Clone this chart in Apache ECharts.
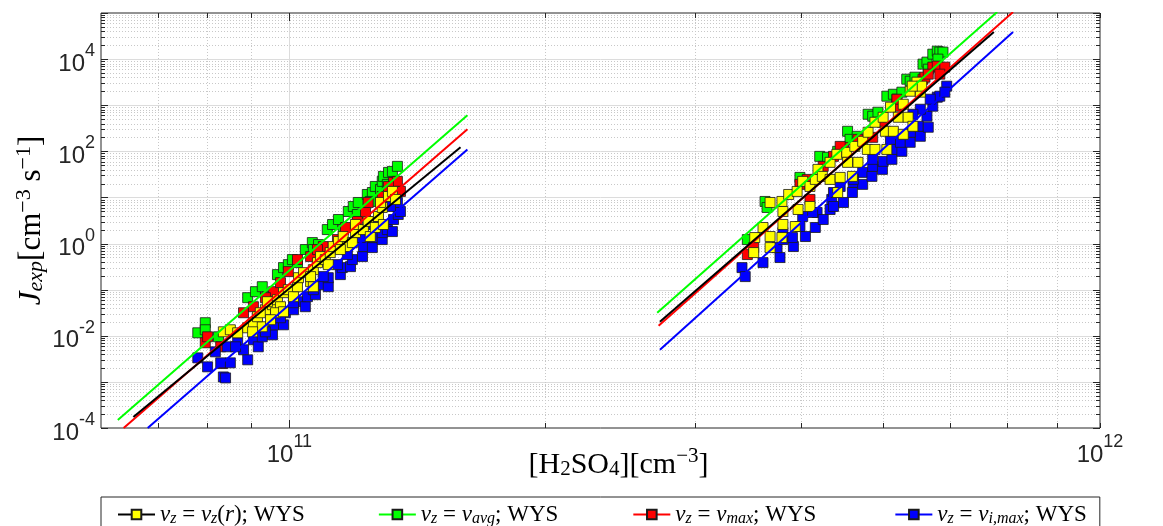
<!DOCTYPE html>
<html><head><meta charset="utf-8">
<script src="https://cdn.jsdelivr.net/npm/echarts@6/dist/echarts.min.js"></script>
<style>html,body{margin:0;padding:0;background:#fff;}#c{width:1163px;height:526px;}</style>
</head><body><div id="c"></div>
<script>
// ---------------- axis ranges & ticks ----------------
const X_MIN = 6e10, X_MAX = 9e11, Y_MIN = 1e-4, Y_MAX = 1e5;
const xTickValues = [7e10, 8e10, 9e10, 1e11, 2e11, 3e11, 4e11, 5e11, 6e11, 7e11, 8e11, 9e11];
const xMajorValues = [1e11];
const xTickLabels = [[1e11, '11'], [9e11, '12']];           // value -> exponent text shown
const yDecades = [1e-4, 1e-3, 1e-2, 1e-1, 1, 1e1, 1e2, 1e3, 1e4, 1e5];
const yMinorMantissas = [2, 3, 4, 5, 6, 7, 8, 9];
const yLabelExps = [-4, -2, 0, 2, 4];

// ---------------- legend / series names ----------------
const names = ['vz = vz(r); WYS', 'vz = vavg; WYS', 'vz = vmax; WYS', 'vz = vi,max; WYS'];
const legendRich = {
  'vz = vz(r); WYS': '{i|v}{s|z}{t| = }{i|v}{s|z}{t|(}{i|r}{t|); WYS}{p1|}',
  'vz = vavg; WYS': '{i|v}{s|z}{t| = }{i|v}{s|avg}{t|; WYS}{p2|}',
  'vz = vmax; WYS': '{i|v}{s|z}{t| = }{i|v}{s|max}{t|; WYS}{p3|}',
  'vz = vi,max; WYS': '{i|v}{s|z}{t| = }{i|v}{s|i,max}{t|; WYS}'
};

// ---------------- data: [H2SO4] (cm^-3), J (cm^-3 s^-1) ----------------
const yellowPts = [
  [8.36e10,1.22e-2],[8.52e10,1.35e-2],[8.69e10,1.16e-2],[8.93e10,1.49e-2],[9.07e10,1.92e-2],[9.29e10,1.57e-2],[9.17e10,2.59e-2],[9.37e10,3.67e-2],[9.55e10,4.72e-2],[9.42e10,5.48e-2],[9.68e10,6.06e-2],[9.76e10,4.27e-2],[9.63e10,3.16e-2],[9.84e10,8.61e-2],[9.97e10,0.1],[1.011e11,7.05e-2],[1.022e11,0.116],[1.025e11,0.182],[1.039e11,0.234],[1.059e11,0.149],[1.067e11,0.272],[1.079e11,0.386],[1.088e11,0.521],[1.102e11,0.449],[1.117e11,0.637],[1.126e11,0.861],[1.142e11,1.105],[1.157e11,1.42],[1.170e11,0.861],[1.186e11,1.05],[1.196e11,1.73],[1.196e11,2.59],[1.222e11,2.01],[1.238e11,3.01],[1.245e11,1.42],[1.262e11,2.23],[1.273e11,3.86],[1.286e11,6.06],[1.290e11,2.59],[1.280e11,7.78],[1.308e11,10.5],[1.322e11,13.5],[1.333e11,9.05],[1.148e11,0.741],[1.111e11,0.349],[1.067e11,0.116],[1.059e11,0.192],[9.84e10,3.32e-2],[9.50e10,2.23e-2],[9.24e10,3.16e-2],[9.05e10,1.22e-2],
  [3.53e11,1.35],[3.52e11,0.637],[3.61e11,2.23],[3.68e11,7.78],[3.68e11,0.818],[3.68e11,1.42],[3.80e11,8.19],[3.80e11,1.35],[3.81e11,4.96],[3.81e11,2.59],[3.87e11,11.6],[3.94e11,2.34],[3.96e11,13.5],[3.97e11,5.48],[4.02e11,22.3],[4.10e11,6.37],[4.10e11,17.3],[4.16e11,24.6],[4.19e11,40.6],[4.24e11,28.6],[4.33e11,57.7],[4.33e11,24.6],[4.41e11,86.1],[4.42e11,12.8],[4.45e11,27.2],[4.53e11,95.1],[4.54e11,57.7],[4.60e11,28.6],[4.63e11,128],[4.67e11,57.7],[4.73e11,165],[4.79e11,110],[4.80e11,259],[4.89e11,110],[4.89e11,427],[5.00e11,548],[5.03e11,272],[5.05e11,110],[5.10e11,905],[5.14e11,272],[5.21e11,548],[5.28e11,1050],[5.28e11,234],[5.35e11,548],[5.38e11,2010],[5.42e11,349],[5.48e11,3160],[5.53e11,1920],[5.55e11,2590],[5.41e11,2590]
];
const greenPts = [
  [7.80e10,1.16e-2],[7.96e10,1.92e-2],[7.96e10,1.35e-2],[8.25e10,9.51e-3],[8.93e10,6.70e-2],[9.12e10,9.05e-2],[9.29e10,0.116],[9.42e10,7.05e-2],[9.68e10,0.212],[9.84e10,0.301],[9.97e10,0.349],[1.008e11,0.449],[1.022e11,0.386],[1.044e11,0.741],[1.064e11,1.05],[1.067e11,0.741],[1.082e11,0.951],[1.108e11,2.01],[1.124e11,2.59],[1.142e11,3.32],[1.157e11,2.01],[1.173e11,4.96],[1.189e11,6.37],[1.205e11,7.78],[1.202e11,4.27],[1.235e11,11.6],[1.252e11,12.8],[1.262e11,17.3],[1.280e11,14.9],[1.286e11,22.3],[1.290e11,28.6],[1.308e11,34.9],[1.322e11,36.7],[1.340e11,47.2],[1.333e11,21.2],[1.304e11,19.2],[1.245e11,8.19],
  [3.63e11,8.19],[3.65e11,6.06],[3.46e11,1.22],[4.21e11,77.8],[4.30e11,74.1],[4.54e11,272],[4.57e11,182],[4.80e11,637],[4.86e11,577],[5.05e11,1570],[5.14e11,1730],[5.19e11,1350],[5.33e11,3670],[5.38e11,3320],[5.45e11,4060],[5.57e11,7780],[5.63e11,8610],[5.72e11,12800],[5.79e11,14900],[5.83e11,14200],[5.88e11,14200],[5.80e11,10000],[5.65e11,6060],[5.26e11,1920],[4.93e11,705],[4.66e11,212],[4.42e11,100],[3.99e11,27.2]
];
const redPts = [
  [7.96e10,7.05e-3],[8.01e10,9.51e-3],[8.30e10,5.77e-3],[8.83e10,3.16e-2],[9.58e10,9.05e-2],[9.97e10,0.246],[1.022e11,0.449],[1.059e11,0.521],[1.096e11,0.861],[1.139e11,1.22],[1.164e11,2.23],[1.229e11,4.72],[1.238e11,7.78],[1.326e11,21.2],[1.340e11,22.3],[1.333e11,12.8],[1.351e11,13.5],[8.34e10,2.5e-3],[9.07e10,4.27e-2],[9.37e10,6.70e-2],[9.76e10,0.142],[1.079e11,0.741],[1.202e11,3.01],[1.286e11,10.5],[1.308e11,17.3],
  [3.46e11,0.577],[3.52e11,0.818],[3.99e11,19.2],[4.07e11,24.6],[4.25e11,47.2],[4.37e11,77.8],[4.49e11,122],[4.67e11,182],[4.86e11,201],[4.99e11,427],[5.19e11,951],[5.19e11,1350],[5.42e11,2230],[5.57e11,3670],[5.60e11,4060],[5.72e11,6700],[5.79e11,7050],[5.91e11,6700],[5.83e11,4720],[5.65e11,4720],[4.10e11,9.05],[4.45e11,128]
];
const bluePts = [
  [7.80e10,3.32e-3],[8.01e10,2.12e-3],[8.36e10,1.28e-3],[8.41e10,1.22e-3],[8.18e10,4.49e-3],[8.45e10,5.77e-3],[8.69e10,7.05e-3],[8.83e10,4.97e-3],[8.93e10,3.01e-3],[9.07e10,8.19e-3],[9.19e10,5.77e-3],[9.29e10,9.51e-3],[9.55e10,1.05e-2],[9.58e10,1.73e-2],[9.84e10,1.73e-2],[9.89e10,3.16e-2],[1.011e11,3.67e-2],[1.030e11,5.48e-2],[1.044e11,4.27e-2],[1.050e11,7.05e-2],[1.073e11,7.78e-2],[1.094e11,0.128],[1.111e11,0.116],[1.111e11,0.182],[1.148e11,0.212],[1.154e11,0.301],[1.180e11,0.316],[1.186e11,0.449],[1.219e11,0.521],[1.222e11,0.861],[1.252e11,0.818],[1.252e11,1.35],[1.286e11,1.22],[1.286e11,1.73],[1.304e11,2.01],[1.322e11,1.82],[1.326e11,3.32],[1.343e11,4.27],[1.351e11,4.96],[1.340e11,7.78],[1.315e11,6.37],[1.255e11,2.59],[1.212e11,1.35],[1.170e11,0.577],[1.139e11,0.349],[1.096e11,0.192],[1.067e11,0.1],[1.011e11,5.21e-2],[9.76e10,2.46e-2],[8.30e10,2.59e-3],[8.52e10,2.59e-3],[8.64e10,5.77e-3],[9.37e10,1.22e-2],
  [3.41e11,0.301],[3.44e11,0.192],[3.61e11,0.386],[3.78e11,0.497],[3.92e11,0.861],[3.75e11,0.818],[3.81e11,1.73],[3.91e11,1.35],[4.05e11,1.42],[3.99e11,2.34],[4.02e11,3.86],[4.16e11,2.23],[4.18e11,4.72],[4.25e11,3.32],[4.33e11,5.48],[4.35e11,9.05],[4.49e11,7.78],[4.37e11,12.8],[4.45e11,17.3],[4.60e11,12.8],[4.61e11,21.2],[4.73e11,19.2],[4.73e11,34.9],[4.85e11,28.6],[4.86e11,47.2],[4.99e11,40.6],[5.00e11,60.6],[5.12e11,67.0],[5.14e11,110],[5.26e11,100],[5.24e11,157],[5.38e11,157],[5.41e11,259],[5.53e11,212],[5.50e11,349],[5.65e11,333],[5.63e11,577],[5.72e11,951],[5.79e11,1490],[5.83e11,1570],[5.94e11,2590],[5.91e11,1920],[5.68e11,1350],[5.53e11,818],[5.42e11,637],[5.10e11,182],[4.86e11,67.0],[4.61e11,24.6],[4.37e11,6.37],[4.13e11,4.72],[3.81e11,1.22]
];
// fitted lines: two segments each (left cluster, right cluster)
const blackFit = [[[6.55e10,1.73e-4],[1.59e11,122]], [[2.73e11,2.01e-2],[6.75e11,3.86e4]]];
const greenFit = [[[6.28e10,1.49e-4],[1.62e11,607]], [[2.71e11,3.16e-2],[6.81e11,1.05e5]]];
const redFit   = [[[6.38e10,1.0e-4],[1.62e11,300]], [[2.72e11,1.65e-2],[7.11e11,1.05e5]]];
const blueFit  = [[[6.81e10,1.0e-4],[1.62e11,110]], [[2.73e11,4.97e-3],[7.11e11,3.86e4]]];

// ---------------- styles ----------------
const C = {yellow:'#ffff00', green:'#00ff00', red:'#ff0000', blue:'#0000ff', black:'#000000'};
const FRAME = '#262626';
const MAJOR_GRID = {stroke:'#dcdcdc', lineWidth:1};
const MINOR_GRID = {stroke:'#c8c8c8', lineWidth:1, lineDash:[1,2]};
const TICK = {stroke:FRAME, lineWidth:1};

const yTickData = [];
yDecades.forEach(d => {
  yTickData.push([X_MIN, d]);
  if (d < Y_MAX) yMinorMantissas.forEach(m => yTickData.push([X_MIN, m * d]));
});
const xTickData = xTickValues.map(v => [v, Y_MIN]);

function yGridItem(params, api) {
  const v = api.value(1);
  const cs = params.coordSys;
  const y = Math.round(api.coord([X_MIN, v])[1]) + 0.5;
  const major = yDecades.indexOf(v) >= 0;
  const len = major ? 7 : 4;
  const ch = [];
  if (v > Y_MIN && v < Y_MAX) ch.push({type:'line', shape:{x1:cs.x, y1:y, x2:cs.x+cs.width, y2:y}, style: major ? MAJOR_GRID : MINOR_GRID});
  ch.push({type:'line', shape:{x1:cs.x, y1:y, x2:cs.x+len, y2:y}, style:TICK});
  ch.push({type:'line', shape:{x1:cs.x+cs.width-len, y1:y, x2:cs.x+cs.width, y2:y}, style:TICK});
  return {type:'group', children:ch};
}
function xGridItem(params, api) {
  const v = api.value(0);
  const cs = params.coordSys;
  const x = Math.round(api.coord([v, Y_MIN])[0]) + 0.5;
  const major = xMajorValues.indexOf(v) >= 0;
  const len = major ? 8 : 5;
  const ch = [];
  if (v < X_MAX) ch.push({type:'line', shape:{x1:x, y1:cs.y, x2:x, y2:cs.y+cs.height}, style: major ? MAJOR_GRID : MINOR_GRID});
  ch.push({type:'line', shape:{x1:x, y1:cs.y+cs.height, x2:x, y2:cs.y+cs.height-len}, style:TICK});
  ch.push({type:'line', shape:{x1:x, y1:cs.y, x2:x, y2:cs.y+len}, style:TICK});
  return {type:'group', children:ch};
}

const SERIF = 'Liberation Serif';
const SANS = 'Liberation Sans';
const tickRich = {
  b: {fontFamily:SANS, fontSize:24, lineHeight:34, verticalAlign:'bottom', color:'#262626'},
  e: {fontFamily:SANS, fontSize:18, lineHeight:14, verticalAlign:'top', color:'#262626'}
};

function scatter(name, pts, color) {
  return {type:'scatter', name, data:pts, symbol:'rect', symbolSize:10, z:2, silent:true,
    itemStyle:{color, borderColor:'#1a1a1a', borderWidth:0.8, opacity:1}};
}
function fitSeries(name, seg, lineColor, markColor) {
  return {type:'line', name, data:seg, symbol:'rect', symbolSize:9, showSymbol:false, z:3, silent:true, clip:true,
    lineStyle:{color:lineColor, width:2}, itemStyle:{color:markColor, borderColor:'#1a1a1a', borderWidth:1}};
}

const series = [
  {type:'custom', name:'ygrid', data:yTickData, encode:{x:0, y:1}, renderItem:yGridItem, z:1, silent:true},
  {type:'custom', name:'xgrid', data:xTickData, encode:{x:0, y:1}, renderItem:xGridItem, z:1, silent:true},
  scatter('green points', greenPts, C.green),
  scatter('red points', redPts, C.red),
  scatter('blue points', bluePts, C.blue),
  scatter('yellow points', yellowPts, C.yellow),
  fitSeries(names[0], blackFit[0], C.black, C.yellow),
  fitSeries(names[0], blackFit[1], C.black, C.yellow),
  fitSeries(names[1], greenFit[0], C.green, C.green),
  fitSeries(names[1], greenFit[1], C.green, C.green),
  fitSeries(names[2], redFit[0], C.red, C.red),
  fitSeries(names[2], redFit[1], C.red, C.red),
  fitSeries(names[3], blueFit[0], C.blue, C.blue),
  fitSeries(names[3], blueFit[1], C.blue, C.blue)
];
// draw black fit last among the lines
const blackSeries = series.splice(6, 2);
series.push(...blackSeries);

const chart = echarts.init(document.getElementById('c'), null, {renderer:'canvas'});
chart.setOption({
  animation:false,
  backgroundColor:'#ffffff',
  grid:{left:101, right:63, top:13, bottom:98, show:true, borderColor:FRAME, borderWidth:1, backgroundColor:'#ffffff'},
  xAxis:{
    type:'log', logBase:10, min:X_MIN, max:X_MAX,
    axisLine:{show:false}, axisTick:{show:false}, splitLine:{show:false}, minorTick:{show:false},
    axisLabel:{
      margin:5, showMinLabel:true, showMaxLabel:true,
      formatter:v => { for (const [val, e] of xTickLabels) { if (Math.abs(Math.log10(v) - Math.log10(val)) < 1e-6) return '{b|10}{e|' + e + '}'; } return ''; },
      rich:tickRich
    },
    name:'{t|[H}{s|2}{t|SO}{s|4}{t|][cm}{u|−3}{t|]}',
    nameLocation:'middle', nameGap:18, nameMoveOverlap:false,
    nameTextStyle:{padding:[0,0,0,36], rich:{
      t:{fontFamily:SERIF, fontSize:30, lineHeight:34, verticalAlign:'bottom', color:'#000'},
      s:{fontFamily:SERIF, fontSize:21, lineHeight:16, verticalAlign:'bottom', color:'#000'},
      u:{fontFamily:SERIF, fontSize:21, lineHeight:18, verticalAlign:'top', color:'#000'}
    }}
  },
  yAxis:{
    type:'log', logBase:10, min:Y_MIN, max:Y_MAX,
    axisLine:{show:false}, axisTick:{show:false}, splitLine:{show:false}, minorTick:{show:false},
    axisLabel:{
      margin:6,
      formatter:v => { const e = Math.round(Math.log10(v)); return yLabelExps.indexOf(e) >= 0 ? '{b|10}{e|' + e + '}' : ''; },
      rich:tickRich
    },
    name:'{j|J}{s|exp}{t|[cm}{u|−3}{t| s}{u|−1}{t|]}',
    nameLocation:'middle', nameGap:54, nameMoveOverlap:false,
    nameTextStyle:{rich:{
      j:{fontFamily:SERIF, fontStyle:'italic', fontSize:31, lineHeight:34, verticalAlign:'bottom', color:'#000'},
      t:{fontFamily:SERIF, fontSize:31, lineHeight:34, verticalAlign:'bottom', color:'#000'},
      s:{fontFamily:SERIF, fontStyle:'italic', fontSize:22, lineHeight:16, verticalAlign:'bottom', color:'#000'},
      u:{fontFamily:SERIF, fontSize:22, lineHeight:18, verticalAlign:'top', color:'#000'}
    }}
  },
  legend:{
    left:101, top:497, orient:'horizontal', itemGap:0, itemWidth:37, itemHeight:12,
    padding:[6, 13, 14, 16], borderColor:FRAME, borderWidth:1, backgroundColor:'#ffffff',
    selectedMode:false,
    data:names,
    formatter:n => legendRich[n],
    textStyle:{fontFamily:SERIF, fontSize:23, color:'#000', rich:{
      i:{fontFamily:SERIF, fontStyle:'italic', fontSize:23, lineHeight:24, verticalAlign:'bottom', color:'#000'},
      t:{fontFamily:SERIF, fontSize:23, lineHeight:24, verticalAlign:'bottom', color:'#000'},
      s:{fontFamily:SERIF, fontStyle:'italic', fontSize:16, lineHeight:13, verticalAlign:'bottom', color:'#000'},
      p1:{width:73, lineHeight:24},
      p2:{width:74, lineHeight:24},
      p3:{width:78, lineHeight:24}
    }}
  },
  series
});
</script></body></html>
